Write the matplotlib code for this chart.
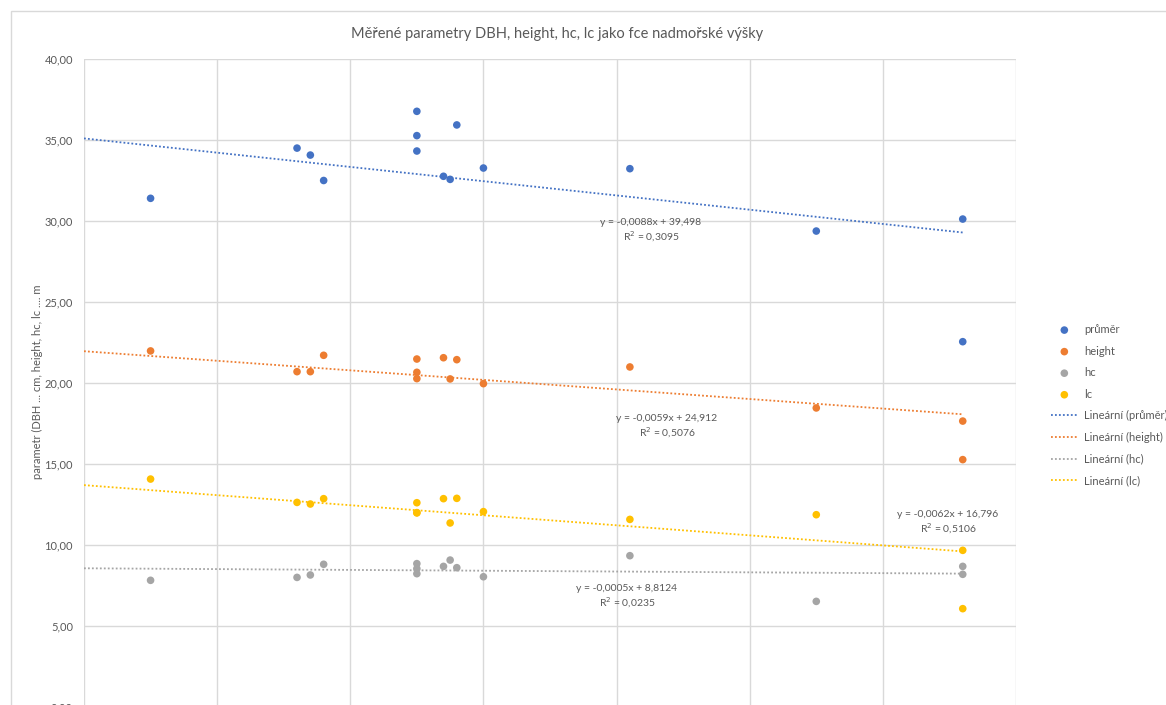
import matplotlib
matplotlib.use("Agg")
import matplotlib.pyplot as plt
from matplotlib.patches import Rectangle
from matplotlib.ticker import FuncFormatter, MultipleLocator

plt.rcParams['font.family'] = ['Lato', 'DejaVu Sans']

# altitude (m a.s.l.) of each measured tree
altitude = [550, 660, 670, 680, 750, 750, 750, 770, 775, 780, 800, 910, 1050, 1160, 1160]

# measured parameters
prumer = [31.40, 34.50, 34.07, 32.50, 36.77, 35.27, 34.32, 32.76, 32.57, 35.93, 33.27, 33.23, 29.38, 30.12, 22.55]
height = [21.98, 20.70, 20.70, 21.71, 21.48, 20.66, 20.27, 21.56, 20.25, 21.44, 19.96, 20.99, 18.46, 17.65, 15.27]
hc = [7.82, 8.00, 8.15, 8.81, 8.85, 8.54, 8.23, 8.68, 9.07, 8.60, 8.04, 9.34, 6.52, 8.68, 8.19]
lc = [14.07, 12.63, 12.53, 12.86, 12.61, 11.98, 12.00, 12.86, 11.36, 12.88, 12.06, 11.58, 11.87, 9.67, 6.07]

series_names = ['průměr', 'height', 'hc', 'lc']
series_values = [prumer, height, hc, lc]
series_colors = ['#4472C4', '#ED7D31', '#A5A5A5', '#FFC000']

# linear trend coefficients (slope, intercept, R²)
trend_slope = [-0.0088, -0.0059, -0.0005, -0.0062]
trend_intercept = [39.498, 24.912, 8.8124, 16.796]
trend_r2 = [0.3095, 0.5076, 0.0235, 0.5106]

x_min, x_max = 500, 1200
y_min, y_max = 0, 40

W, H = 1166, 705
fig = plt.figure(figsize=(W / 100, H / 100), dpi=100)

def fx(px):
    return px / W

def fy(py):
    return 1 - py / H

TXT = '#595959'
GRID = '#D9D9D9'

# chart area border
fig.patches.append(Rectangle((fx(11), fy(715)), fx(1170) - fx(11), fy(11) - fy(715),
                             transform=fig.transFigure, fill=False,
                             edgecolor=GRID, linewidth=1.0))

left, right, top, bottom = 84, 1016, 59, 707
ax = fig.add_axes([fx(left), fy(bottom), fx(right) - fx(left), fy(top) - fy(bottom)])
ax.set_xlim(x_min, x_max)
ax.set_ylim(y_min, y_max)
ax.xaxis.set_major_locator(MultipleLocator(100))
ax.yaxis.set_major_locator(MultipleLocator(5))
ax.grid(True, color=GRID, linewidth=1.0)
ax.set_axisbelow(True)
for s in ax.spines.values():
    s.set_visible(False)
ax.tick_params(axis='both', length=0, labelsize=8, labelcolor=TXT, pad=8)
ax.tick_params(axis='x', labelbottom=False)
ax.yaxis.set_major_formatter(FuncFormatter(lambda v, p: f"{v:.2f}".replace('.', ',')))

handles = []
for name, vals, col in zip(series_names, series_values, series_colors):
    h = ax.scatter(altitude, vals, s=30, color=col, edgecolors='none', zorder=3, label=name)
    handles.append(h)

x_end = max(altitude)
line_handles = []
for name, m, b, col in zip(series_names, trend_slope, trend_intercept, series_colors):
    xs = [x_min, x_end]
    ys = [m * x + b for x in xs]
    ln, = ax.plot(xs, ys, linestyle=(0, (1, 1.2)), linewidth=1.3, color=col,
                  zorder=2, label=f'Lineární ({name})')
    line_handles.append(ln)

def fmt(v, nd):
    return f"{v:.{nd}f}".replace('.', ',')

def eq_text(m, b, r2):
    bs = f"{b:.4f}".rstrip('0').replace('.', ',')
    return f"y = {fmt(m, 4)}x + {bs}\nR$^2$ = {fmt(r2, 4)}"

# trendline equation labels (pixel centres)
label_pos = [(651, 231), (667, 427), (627, 597), (948, 523)]
for (px, py), m, b, r2 in zip(label_pos, trend_slope, trend_intercept, trend_r2):
    fig.text(fx(px), fy(py), eq_text(m, b, r2), ha='center', va='center',
             fontsize=7.5, color=TXT, linespacing=1.2)

fig.text(fx(557), fy(34), 'Měřené parametry DBH, height, hc, lc jako fce nadmořské výšky',
         ha='center', va='center', fontsize=10.5, color=TXT)

fig.text(fx(37), fy(382), 'parametr (DBH ... cm, height, hc, lc .... m', rotation=90,
         ha='center', va='center', fontsize=8.0, color=TXT)

leg = fig.legend(handles + line_handles, [h.get_label() for h in handles + line_handles],
                 loc='upper left', bbox_to_anchor=(fx(1051), fy(324)),
                 bbox_transform=fig.transFigure, frameon=False, fontsize=8,
                 handlelength=2.4, handletextpad=0.6, labelspacing=0.95,
                 borderpad=0, borderaxespad=0, scatterpoints=1)
for t in leg.get_texts():
    t.set_color(TXT)

fig.savefig('out.png', dpi=100)
